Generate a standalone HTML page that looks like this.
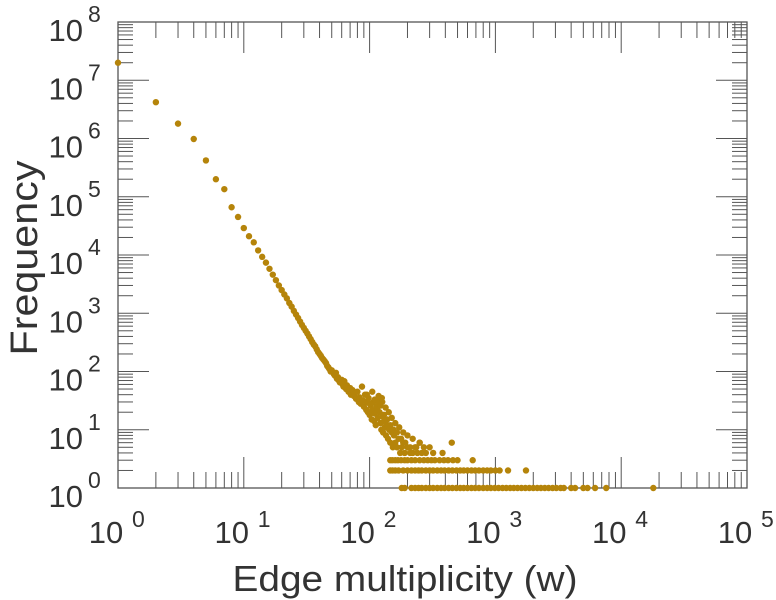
<!DOCTYPE html>
<html><head><meta charset="utf-8"><style>
html,body{margin:0;padding:0;background:#fff;}
svg{display:block;font-family:"Liberation Sans",Arial,sans-serif;}
</style></head><body>
<svg id="chart" width="776" height="600" viewBox="0 0 776 600" xmlns="http://www.w3.org/2000/svg"></svg>
<script>
// main curve: edge multiplicity w vs frequency
const curveW = [1,2,3,4,5,6,7,8,9,10,11,12,13,14,15,16,17,18,19,20,21,22,23,24,25,26,27,28,29,30,31,32,33,34,35,36,37,38,39,40,41,42,43,44,45,46,47,48,49,50,52,53,54,55,56,57,58,60,61,62,63,65,66,68,70,71,73,75,76,78,80,82,83,85,87,88,90,92,94,95,97,98,100,102,104,105,107,109,110,112,114,116,118,120,122,124,125,126,128,130,132,135,138,140,143,146,150,153,156,160,165,170,175,180,185,190,200,210,220,230,240,250,260,280,300,320,380,450];
const curveF = [2e7,4.2e6,1.8e6,9.8e5,4.2e5,2.0e5,1.35e5,6.6e4,4.5e4,2.9e4,2.1e4,1.65e4,1.2e4,9300,7400,5800,4600,3700,3000,2500,2100,1800,1500,1300,1100,950,830,720,630,560,500,450,400,360,320,290,270,240,215,200,185,170,160,150,140,125,118,110,100,105,90,85,95,75,80,70,65,72,60,55,68,50,58,45,52,40,48,38,42,34,45,30,36,28,55,32,25,40,22,30,20,35,18,26,15,22,30,14,19,12,25,16,30,20,13,10,35,17,9,14,11,8,12,7,10,6,9,5,8,6,5,7,4,5,6,4,5,4,4,5,4,6,4,4,5,4,4,6];
// extra scatter around w 100-300
const scatterW = [95,100,105,110,115,118,122,126,130,134,138,142,146,150,155,160,165,172,178,185,192,200,210,220,235,250,270];
const scatterF = [40,28,45,33,22,38,26,30,18,24,15,20,12,16,10,13,9,11,7,9,6,8,5,7,5,6,5];
// flat rows at frequency 3, 2, 1
const row3W = [146,152,160,168,178,190,200,215,230,250,270,290,310,330,360,390,420,460,500,660];
const row2W = [146,152,160,170,185,200,215,230,245,260,280,300,320,345,370,395,425,455,490,525,560,600,645,690,740,800,860,920,1000,1080,1260,1750];
const row1W = [180,190,215,230,245,260,280,300,320,345,370,395,425,455,490,525,560,600,645,690,740,800,860,920,990,1060,1140,1220,1310,1400,1500,1610,1730,1860,2000,2150,2300,2470,2650,2850,3050,3300,3500,4000,4300,5000,5400,6200,7600,18000];
const xDecades = [0,1,2,3,4,5];
const yDecades = [0,1,2,3,4,5,6,7,8];

const svg = document.getElementById('chart');
const NS = 'http://www.w3.org/2000/svg';
const L=118, R=747, T=22, B=488;
const X = w => L + (R-L)*Math.log10(w)/5;
const Y = f => B - (B-T)*Math.log10(f)/8;
function mk(tag, attrs, parent){const e=document.createElementNS(NS,tag);for(const k in attrs)e.setAttribute(k,attrs[k]);(parent||svg).appendChild(e);return e;}

const axes = mk('g',{stroke:'#555','stroke-width':1});


const frame = mk('rect',{x:L,y:T,width:R-L,height:B-T,fill:'none',stroke:'#555','stroke-width':1.3},axes);


for(let d=0; d<5; d++){
  for(let m=1;m<=9;m++){
    const x = X(Math.pow(10,d)*m);
    const len = m===1?31:16;
    if(m===1 && d===0) continue;
    const t1=mk('line',{x1:x,x2:x,y1:B,y2:B-len},axes);
    
    
    const t2=mk('line',{x1:x,x2:x,y1:T,y2:T+len},axes);
    
    
  }
}
for(let d=0; d<8; d++){
  for(let m=1;m<=9;m++){
    const y = Y(Math.pow(10,d)*m);
    const len = m===1?31:15;
    if(m===1 && d===0) continue;
    const t1=mk('line',{x1:L,x2:L+len,y1:y,y2:y},axes);
    
    
    const t2=mk('line',{x1:R,x2:R-len,y1:y,y2:y},axes);
    
    
  }
}
const lab = mk('g',{fill:'#333'});
xDecades.forEach(d=>{
  const x=X(Math.pow(10,d));
  const t=mk('text',{x:x-12,y:543,'text-anchor':'middle','font-size':31},lab);
  t.textContent='10';
  
  
  const s=mk('text',{x:x+14,y:527,'font-size':23},lab);
  s.textContent=String(d);
  
  
});
yDecades.forEach(d=>{
  const y=Y(Math.pow(10,d));
  const t=mk('text',{x:83,y:y+19,'text-anchor':'end','font-size':31},lab);
  t.textContent='10';
  
  
  const s=mk('text',{x:88,y:y,'font-size':23},lab);
  s.textContent=String(d);
  
  
});
const xt=mk('text',{x:405,y:591,'text-anchor':'middle','font-size':36,textLength:345,lengthAdjust:'spacingAndGlyphs'},lab);
xt.textContent='Edge multiplicity (w)';


const yt=mk('text',{x:0,y:0,'text-anchor':'middle','font-size':38,textLength:195,lengthAdjust:'spacingAndGlyphs',transform:'translate(37,258) rotate(-90)'},lab);
yt.textContent='Frequency';



const pts = mk('g',{fill:'#b5840a'});


function dot(w,f){
  const c=mk('circle',{cx:X(w),cy:Y(f),r:3.2},pts);
  
  
}
curveW.forEach((w,i)=>dot(w,curveF[i]));
scatterW.forEach((w,i)=>dot(w,scatterF[i]));
row3W.forEach(w=>dot(w,3));
row2W.forEach(w=>dot(w,2));
row1W.forEach(w=>dot(w,1));
</script>
</body></html>
